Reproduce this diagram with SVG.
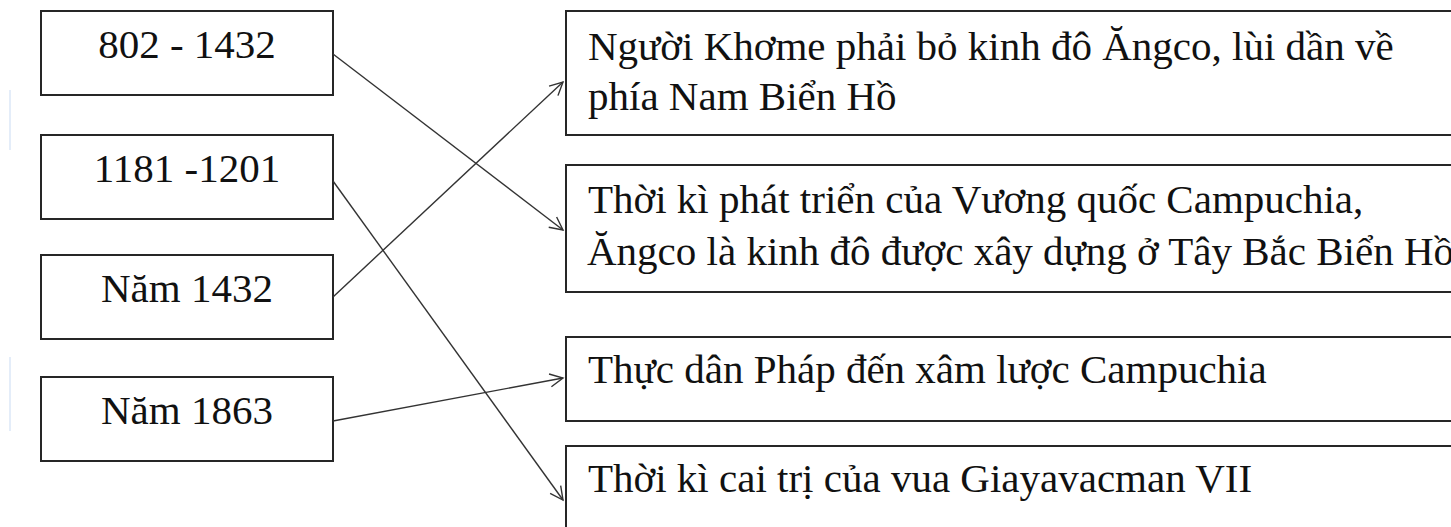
<svg xmlns="http://www.w3.org/2000/svg" width="1451" height="527" viewBox="0 0 1451 527">
<style>
.box{fill:#fff;stroke:#262626;stroke-width:2}
.t{font-family:"Liberation Serif","Times New Roman",serif;font-size:41px;fill:#111}
.c{text-anchor:middle}
.con{stroke:#333;stroke-width:1.4;fill:none;marker-end:url(#arr)}
.faint{stroke:#dbe7f7;stroke-width:1.5}
</style>
<defs>
<marker id="arr" markerUnits="userSpaceOnUse" markerWidth="30" markerHeight="30" refX="0" refY="0" viewBox="-15 -15 30 30" orient="auto">
<path d="M -13 -6.5 L 0 0 L -13 6.5" fill="none" stroke="#333" stroke-width="1.4"/>
</marker>
</defs>
<rect width="1451" height="527" fill="#fff"/>
<line class="faint" x1="10" y1="90" x2="10" y2="150"/>
<line class="faint" x1="10" y1="357" x2="10" y2="431"/>
<g id="n1"><rect class="box" x="41" y="11" width="292" height="84"/><text class="t c" x="187" y="58">802 - 1432</text></g>
<g id="n2"><rect class="box" x="41" y="135" width="292" height="84"/><text class="t c" x="187" y="182">1181 -1201</text></g>
<g id="n3"><rect class="box" x="41" y="255" width="292" height="84"/><text class="t c" x="187" y="302">Năm 1432</text></g>
<g id="n4"><rect class="box" x="41" y="377" width="292" height="84"/><text class="t c" x="187" y="424">Năm 1863</text></g>
<g id="r1"><rect class="box" x="566" y="11" width="900" height="124"/><text class="t" x="588" y="60">Người Khơme phải bỏ kinh đô Ăngco, lùi dần về</text><text class="t" x="588" y="110">phía Nam Biển Hồ</text></g>
<g id="r2"><rect class="box" x="566" y="165" width="900" height="127"/><text class="t" x="588" y="213">Thời kì phát triển của Vương quốc Campuchia,</text><text class="t" x="587" y="265">Ăngco là kinh đô được xây dựng ở Tây Bắc Biển Hồ</text></g>
<g id="r3"><rect class="box" x="566" y="337" width="900" height="84"/><text class="t" x="588" y="383">Thực dân Pháp đến xâm lược Campuchia</text></g>
<g id="r4"><rect class="box" x="566" y="446" width="900" height="120"/><text class="t" x="588" y="492">Thời kì cai trị của vua Giayavacman VII</text></g>
<g id="connectors">
<line class="con" x1="333" y1="54" x2="563" y2="230"/>
<line class="con" x1="333" y1="181" x2="563" y2="500"/>
<line class="con" x1="333" y1="297" x2="563" y2="82"/>
<line class="con" x1="333" y1="421" x2="563" y2="378"/>
</g>
</svg>
